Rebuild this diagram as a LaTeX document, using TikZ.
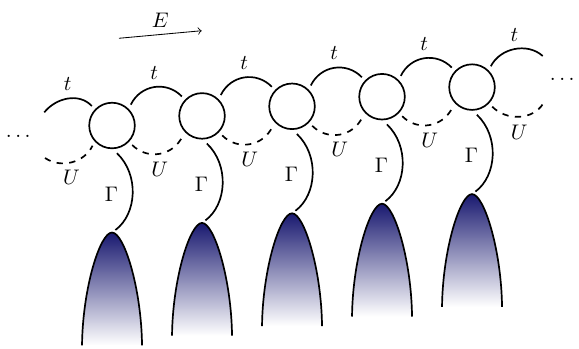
\documentclass[tikz,border=0pt]{standalone}
\usepackage{amsmath,amssymb}
\usepackage{tikz}
\definecolor{domeblue}{RGB}{25,25,112}

\begin{document}
\begin{tikzpicture}[site/.style={circle,draw,thick,minimum size=.76cm,inner sep=0pt,outer sep=2.5pt},
  hop/.style={thick},pot/.style={thick,dashed},link/.style={thick,shorten >=2pt},
  dome/.style={thick,top color=domeblue,bottom color=white}]
\useasboundingbox (0,0) rectangle (9.65,-5.8);
% sites
\node[site] (s1) at (1.867,-2.092) {};
\node[site] (s2) at (3.367,-1.932) {};
\node[site] (s3) at (4.867,-1.772) {};
\node[site] (s4) at (6.367,-1.612) {};
\node[site] (s5) at (7.867,-1.452) {};
\node (ldots) at (0.333,-2.278) {$\dots$};
\node (rdots) at (9.4,-1.322) {$\dots$};
\coordinate (wu) at (0.738,-1.872);
\coordinate (wd) at (0.75,-2.633);
\coordinate (eu) at (9.045,-0.933);
\coordinate (ed) at (9.055,-1.722);
% leads
\coordinate (b1) at (1.867,-3.875);
\coordinate (b2) at (3.367,-3.715);
\coordinate (b3) at (4.867,-3.555);
\coordinate (b4) at (6.367,-3.395);
\coordinate (b5) at (7.867,-3.235);
\draw[dome] (1.367,-5.755) .. controls +(.01,.95) and +(-.2,0) .. (b1) .. controls +(.2,0) and +(-.01,.95) .. (2.367,-5.755);
\draw[dome] (2.867,-5.595) .. controls +(.01,.95) and +(-.2,0) .. (b2) .. controls +(.2,0) and +(-.01,.95) .. (3.867,-5.595);
\draw[dome] (4.367,-5.435) .. controls +(.01,.95) and +(-.2,0) .. (b3) .. controls +(.2,0) and +(-.01,.95) .. (5.367,-5.435);
\draw[dome] (5.867,-5.275) .. controls +(.01,.95) and +(-.2,0) .. (b4) .. controls +(.2,0) and +(-.01,.95) .. (6.867,-5.275);
\draw[dome] (7.367,-5.115) .. controls +(.01,.95) and +(-.2,0) .. (b5) .. controls +(.2,0) and +(-.01,.95) .. (8.367,-5.115);
\draw[link] (s1.-80) to[bend left=50] node[left=3pt] {$\Gamma$} (b1);
\draw[link] (s2.-80) to[bend left=50] node[left=3pt] {$\Gamma$} (b2);
\draw[link] (s3.-80) to[bend left=50] node[left=3pt] {$\Gamma$} (b3);
\draw[link] (s4.-80) to[bend left=50] node[left=3pt] {$\Gamma$} (b4);
\draw[link] (s5.-80) to[bend left=50] node[left=3pt] {$\Gamma$} (b5);
% hopping t
\draw[hop] (wu) to[out=51,in=133] node[above] {$t$} (s1.136);
\draw[hop] (s1.48) to[bend left=55,looseness=1.1] node[above] {$t$} (s2.136);
\draw[hop] (s2.48) to[bend left=55,looseness=1.1] node[above] {$t$} (s3.136);
\draw[hop] (s3.48) to[bend left=55,looseness=1.1] node[above] {$t$} (s4.136);
\draw[hop] (s4.48) to[bend left=55,looseness=1.1] node[above] {$t$} (s5.136);
\draw[hop] (s5.48) to[out=63,in=138] node[above] {$t$} (eu);
% interaction U
\draw[pot] (wd) to[out=-34,in=-116] node[below] {$U$} (s1.226);
\draw[pot] (s1.-44) to[bend right=55,looseness=1.1] node[below] {$U$} (s2.226);
\draw[pot] (s2.-44) to[bend right=55,looseness=1.1] node[below] {$U$} (s3.226);
\draw[pot] (s3.-44) to[bend right=55,looseness=1.1] node[below] {$U$} (s4.226);
\draw[pot] (s4.-44) to[bend right=55,looseness=1.1] node[below] {$U$} (s5.226);
\draw[pot] (s5.-44) to[out=-46,in=-121] node[below] {$U$} (ed);
% field
\coordinate (e0) at (1.983,-0.638);
\coordinate (e1) at (3.362,-0.512);
\draw[->] (e0) -- node[above] {$E$} (e1);
\end{tikzpicture}
\end{document}
